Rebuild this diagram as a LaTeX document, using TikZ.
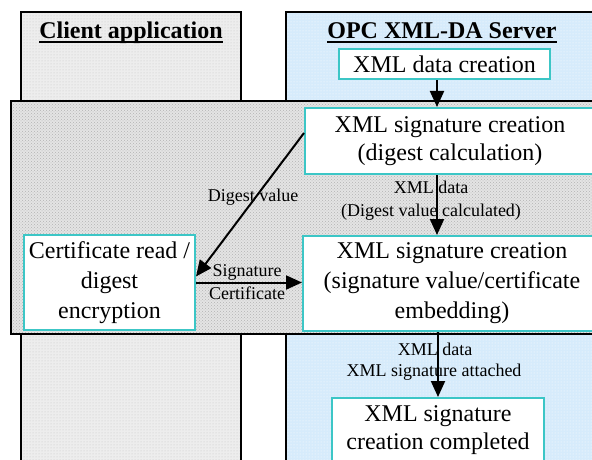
\documentclass[tikz,border=0pt]{standalone}
\usepackage{fontspec}
\setmainfont{Liberation Serif}
\usetikzlibrary{arrows.meta,calc,patterns}

\definecolor{boxline}{HTML}{3CC6C6}
\definecolor{clientfill}{HTML}{EDEDED}
\definecolor{bandfill}{HTML}{E4E4E4}
\definecolor{serverfill}{HTML}{D6EBFB}

\tikzset{
  procbox/.style={draw=boxline, line width=2pt, fill=white, inner sep=0pt,
    align=center, font=\fontsize{24}{30}\selectfont},
  title/.style={inner sep=0pt, anchor=base, font=\fontsize{24}{28}\selectfont\bfseries},
  lbl/.style={inner sep=0pt, align=center, font=\fontsize{18}{22}\selectfont},
  arr/.style={line width=2pt, -{Triangle[length=16pt,width=14pt]}},
  frame/.style={line width=1.3pt}
}

\begin{document}
\begin{tikzpicture}[x=1pt,y=-1pt]
\useasboundingbox (0,0) rectangle (592,460);

% client and server columns
\fill[clientfill] (21,12) rectangle (241,470);
\fill[pattern=dots, pattern color=gray!45] (21,12) rectangle (241,470);
\draw[frame] (21,470) -- (21,12) -- (241,12) -- (241,470);
\fill[serverfill] (286,12) rectangle (600,470);
\fill[pattern=dots, pattern color=white] (286,12) rectangle (600,470);
\draw[frame] (286,470) -- (286,12) -- (600,12);

% shared band across both columns
\fill[bandfill] (11,101) rectangle (600,334);
\fill[pattern=crosshatch dots, pattern color=gray!60] (11,101) rectangle (600,334);
\draw[frame] (600,101) -- (11,101) -- (11,334) -- (600,334);

% column titles
\node[title] (ctitle) at (131,39) {Client application};
\node[title] (stitle) at (442,39) {OPC XML-DA Server};
\draw[line width=2.5pt] ([yshift=-3pt]ctitle.base west) -- ([yshift=-3pt]ctitle.base east);
\draw[line width=2.5pt] ([yshift=-3pt]stitle.base west) -- ([yshift=-3pt]stitle.base east);

% process boxes
\node[procbox, minimum width=211, minimum height=30] (create) at (444.5,64) {XML data creation};
\node[procbox, minimum width=290, minimum height=66, font=\fontsize{24}{28}\selectfont] (sig1) at (450,141)
  {XML signature creation\\(digest calculation)};
\node[procbox, minimum width=298, minimum height=95] (sig2) at (452,283.5)
  {XML signature creation\\(signature value/certificate\\embedding)};
\node[procbox, minimum width=171, minimum height=95] (cert) at (109.5,282.5)
  {Certificate read /\\digest\\encryption};
\node[procbox, minimum width=212, minimum height=64, font=\fontsize{24}{28}\selectfont] (done) at (438,430)
  {XML signature\\creation completed};

% connectors
\draw[arr] (create.south -| 437,0) -- (sig1.north -| 437,0);
\draw[arr] (sig1.south -| 437,0) -- (sig2.north -| 437,0);
\draw[arr] (sig2.south -| 438,0) -- (done.north -| 438,0);
\draw[arr] ([yshift=8pt]sig1.west) -- ([yshift=6pt]cert.east);
\draw[arr] (cert.east) -- (cert.east -| sig2.west);

% connector labels
\node[lbl] (l1) at (431,187) {XML data};
\node[lbl] (l2) at (431,212) {(Digest value calculated)};
\node[lbl] (l3) at (435,349) {XML data};
\node[lbl] (l4) at (434,372) {XML signature attached};
\node[lbl] (l5) at (253,197) {Digest value};
\node[lbl] (l6) at (247,272) {Signature};
\node[lbl] (l7) at (247,293) {Certificate};
\end{tikzpicture}
\end{document}
